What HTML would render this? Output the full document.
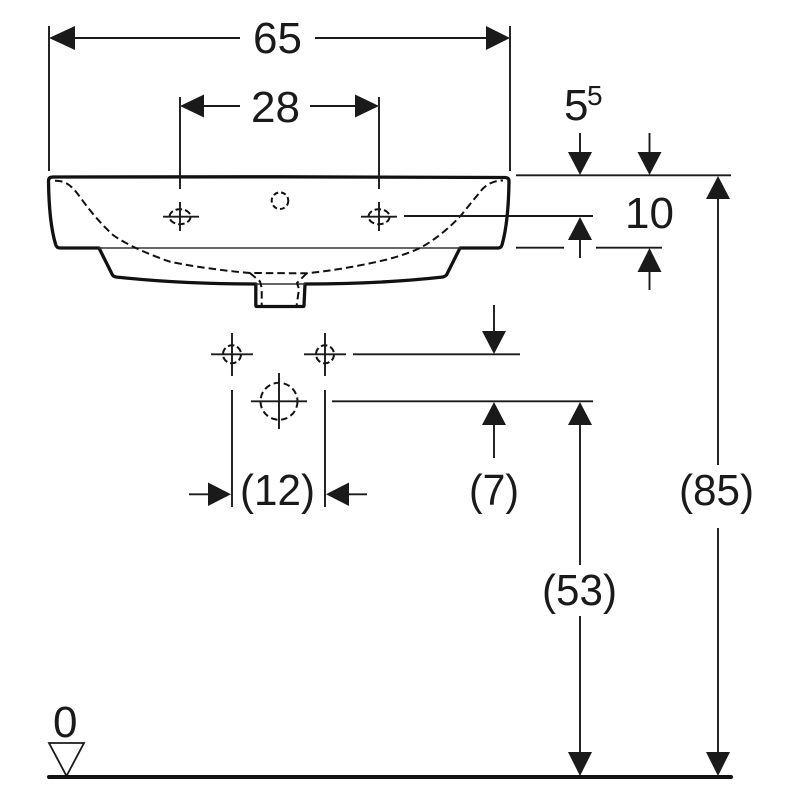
<!DOCTYPE html>
<html>
<head>
<meta charset="utf-8">
<style>
html,body{margin:0;padding:0;background:#fff}
svg{display:block}
text{font-family:"Liberation Sans",sans-serif;fill:#1a1a1a;font-size:44px}
</style>
</head>
<body>
<svg width="800" height="800" viewBox="0 0 800 800" xmlns="http://www.w3.org/2000/svg">
<!-- basin outline -->
<g fill="none" stroke="#111" stroke-linejoin="round" stroke-linecap="round">
<path stroke-width="3.3" d="M53 177 L280 176.8 L505 177.5 Q509 177.7 509 181 Q508.5 222 502 245 Q501 248 498 248 L460 248 L446.5 275 Q445 276.5 443 277 Q380 284 305 284 L304 305.5 Q304 306.5 303 306.5 L257 306.5 Q255.8 306.5 255.8 305.5 L255.8 284 Q180 284 116 277 Q113.5 276.5 112.5 275 L99 248 L60 248 Q56.5 248 55.5 244 Q49 222 48.5 181 Q48.5 177 53 177 Z"/>
<path stroke-width="1.5" stroke="#333" d="M99 248 H460 M256 284 H305"/>
<!-- inner dashed -->
<g stroke-width="2" stroke-linecap="butt" stroke-dasharray="7.5 4">
<path d="M55 180.7 C66 180.5 72 186 80 197 C88 208 97 220 113 235 C125 244 150 255 170 261.7 C190 266 225 271 250 273 L307 273.3 C330 271 360 266 387 259.5 C400 256 412 252 420 248 C435 240 452 226 463 213 C470 204 476 197 480 192 C486 184 494 180.5 503 180.5"/>
<path d="M250 273 L260 281.5 L261.7 288 L261.7 305"/>
<path d="M306.7 273.3 L297 283 L299 289 L296.7 305"/>
<!-- holes -->
<circle cx="280" cy="200.7" r="8.3" stroke-dasharray="5 3"/>
<ellipse cx="180" cy="216.7" rx="10.5" ry="7.5" stroke-dasharray="6.5 3"/>
<ellipse cx="379" cy="216.7" rx="10.5" ry="7.5" stroke-dasharray="6.5 3"/>
<circle cx="232" cy="354.3" r="9" stroke-dasharray="6.5 3"/>
<circle cx="325" cy="354.3" r="9" stroke-dasharray="6.5 3"/>
<circle cx="279" cy="401.3" r="18.5" stroke-dasharray="6.5 3.7"/>
</g>
</g>
<!-- thin lines -->
<g stroke="#1a1a1a" stroke-width="1.9" fill="none">
<path d="M49 26 V171 M510 26 V171"/>
<path d="M75 38 H240 M315 38 H486"/>
<path d="M180 97 V189 M379 97 V189"/>
<path d="M204 106 H240 M310 106 H355"/>
<path d="M163 216.7 H199 M180 202 V231 M361 216.7 H397 M379 202 V231"/>
<path d="M404 216 H593"/>
<path d="M516 175.3 H731"/>
<path d="M516 247.7 H564 M596 247.7 H662"/>
<path d="M580 133 V152 M649.5 133 V152 M580 240 V258 M649.5 272 V290"/>
<path d="M718 199 V465 M718 528 V752"/>
<path d="M211 354.3 H253 M232 333 V376 M304 354.3 H346 M325 333 V376 M353 354.3 H520"/>
<path d="M251 401.3 H307 M279 373 V429"/>
<path d="M232 390 V507 M325 390 V507"/>
<path d="M332 401.3 H593"/>
<path d="M189 494.3 H208 M349 494.3 H367"/>
<path d="M494 305 V331 M494 425 V458"/>
<path d="M580 425 V565 M580 616 V752"/>
</g>
<!-- arrowheads -->
<g fill="#1a1a1a">
<path d="M49 38 L75 26 V50 Z"/>
<path d="M510 38 L486 26 V50 Z"/>
<path d="M180 106 L204 94.5 V117.5 Z"/>
<path d="M379 106 L355 94.5 V117.5 Z"/>
<path d="M580 175 L568 152 H592 Z"/>
<path d="M649.5 175 L637.5 152 H661.5 Z"/>
<path d="M580 217 L568 240 H592 Z"/>
<path d="M649.5 248 L637.5 272 H661.5 Z"/>
<path d="M718 176 L706 199 H730 Z"/>
<path d="M718 776 L706 752 H730 Z"/>
<path d="M580 402 L568 425 H592 Z"/>
<path d="M580 776 L568 752 H592 Z"/>
<path d="M494 354 L482 331 H506 Z"/>
<path d="M494 402 L482 425 H506 Z"/>
<path d="M231 494.3 L208 482.5 V506 Z"/>
<path d="M326 494.3 L349 482.5 V506 Z"/>
</g>
<!-- datum -->
<path d="M49 743 H84 L66.5 776 Z" fill="none" stroke="#1a1a1a" stroke-width="1.8"/>
<path d="M49 777 H731" stroke="#111" stroke-width="4" stroke-linecap="round"/>
<!-- labels -->
<text x="253" y="53">65</text>
<text x="251" y="122">28</text>
<text x="564" y="120">5</text>
<text x="587" y="105" style="font-size:28px">5</text>
<text x="625" y="228">10</text>
<text x="240" y="505" textLength="75" lengthAdjust="spacingAndGlyphs">(12)</text>
<text x="469" y="505" textLength="50" lengthAdjust="spacingAndGlyphs">(7)</text>
<text x="679" y="505" textLength="75" lengthAdjust="spacingAndGlyphs">(85)</text>
<text x="542" y="605" textLength="75" lengthAdjust="spacingAndGlyphs">(53)</text>
<text x="53" y="737">0</text>
</svg>
</body>
</html>
